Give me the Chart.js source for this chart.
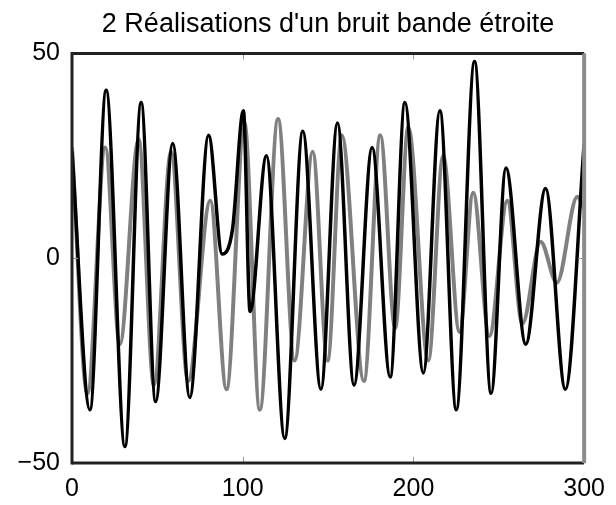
<!DOCTYPE html>
<html>
<head>
<meta charset="utf-8">
<script src="https://cdn.jsdelivr.net/npm/chart.js@4/dist/chart.umd.min.js"></script>
<style>
  html, body { margin: 0; padding: 0; background: #fff; }
  #chart { display: block; }
</style>
</head>
<body>
<canvas id="chart" width="616" height="505"></canvas>
<script>
// Réalisation 1 (noir) : extremums
const blackT = [0, 10.5, 20, 31, 40.5, 49, 59, 69, 80, 88, 94, 100.4, 104.3, 113.9, 124.6, 135.2, 145.8, 155.5, 165.2, 175.8, 186.4, 195, 205.8, 215.5, 225.1, 235.8, 245.5, 254.2, 265.8, 277.4, 289, 300];
const blackV = [26, -37, 41, -46, 38, -35, 28, -34, 30, 1, 7, 36, -13, 25, -44, 31, -32, 33, -31, 27, -29, 38, -28, 36, -37, 48, -33, 22, -21, 17, -32, 28];

// Réalisation 2 (gris)
const grayT = [0, 9, 19.5, 28, 39, 48, 58, 68, 81, 90.5, 101, 110, 120.7, 130.4, 141, 149.7, 158, 171, 180.6, 189.3, 197, 208.7, 217.4, 227, 235, 244.5, 255, 263.8, 274.5, 284, 296, 300];
const grayV = [27, -33, 27, -21, 29, -31, 26, -30, 14, -32, 33, -37, 34, -25, 26, -25, 30, -30, 30, -17, 32, -25, 25, -18, 16, -19, 14, -16, 4, -6, 15, 12];

const xTicks = [0, 100, 200, 300];
const yTicks = [-50, 0, 50];
const titleText = "2 Réalisations d'un bruit bande étroite";

const toPoints = (ts, vs) => ts.map((t, i) => ({ x: t, y: vs[i] }));
const tickLabel = v => String(v).replace('-', '\u2212');

// cadre façon matlab + petites graduations intérieures
const framePlugin = {
    id: 'frame',
    afterDatasetsDraw(chart) {
        const { ctx, chartArea: a, scales } = chart;
        const line = (x1, y1, x2, y2) => {
            ctx.beginPath();
            ctx.moveTo(x1, y1);
            ctx.lineTo(x2, y2);
            ctx.stroke();
        };
        ctx.save();
        ctx.strokeStyle = '#999';
        ctx.lineWidth = 1;
        xTicks.forEach(v => {
            const px = Math.round(scales.x.getPixelForValue(v)) + 0.5;
            line(px, a.top, px, a.top + 6);
            line(px, a.bottom, px, a.bottom - 6);
        });
        yTicks.forEach(v => {
            const py = Math.round(scales.y.getPixelForValue(v)) + 0.5;
            line(a.left, py, a.left + 6, py);
            line(a.right, py, a.right - 6, py);
        });
        ctx.lineWidth = 3;
        ctx.strokeStyle = '#222';
        line(a.left, a.top - 1.5, a.left, a.bottom + 1.5);
        line(a.left, a.top, a.right, a.top);
        line(a.left, a.bottom, a.right, a.bottom);
        ctx.lineWidth = 4;
        ctx.strokeStyle = '#8c8c8c';
        line(a.right, a.top, a.right, a.bottom);
        ctx.restore();
    }
};

new Chart(document.getElementById('chart'), {
    type: 'line',
    data: {
        datasets: [
            {
                label: 'réalisation 1',
                data: toPoints(blackT, blackV),
                borderColor: '#000',
                borderWidth: 3.5,
                pointRadius: 0,
                cubicInterpolationMode: 'monotone'
            },
            {
                label: 'réalisation 2',
                data: toPoints(grayT, grayV),
                borderColor: '#808080',
                borderWidth: 4,
                pointRadius: 0,
                cubicInterpolationMode: 'monotone'
            }
        ]
    },
    options: {
        responsive: false,
        animation: false,
        layout: { padding: { top: 0, right: 27, bottom: 0, left: 0 } },
        plugins: {
            legend: { display: false },
            tooltip: { enabled: false },
            title: {
                display: true,
                text: titleText,
                fullSize: false,
                color: '#000',
                font: { family: 'Liberation Sans', size: 27, weight: 'normal' },
                padding: { top: 8, bottom: 13 }
            }
        },
        scales: {
            x: {
                type: 'linear',
                min: 0,
                max: 300,
                grid: { display: false, drawTicks: false },
                border: { display: false },
                ticks: {
                    stepSize: 100,
                    color: '#000',
                    padding: 11,
                    maxRotation: 0,
                    callback: tickLabel,
                    font: { family: 'Liberation Sans', size: 25 }
                },
                afterFit(s) { s.height = 42; }
            },
            y: {
                min: -50,
                max: 50,
                grid: { display: false, drawTicks: false },
                border: { display: false },
                ticks: {
                    stepSize: 50,
                    color: '#000',
                    padding: 12,
                    callback: tickLabel,
                    font: { family: 'Liberation Sans', size: 25 }
                },
                afterFit(s) { s.width = 72; }
            }
        }
    },
    plugins: [framePlugin]
});
</script>
</body>
</html>
